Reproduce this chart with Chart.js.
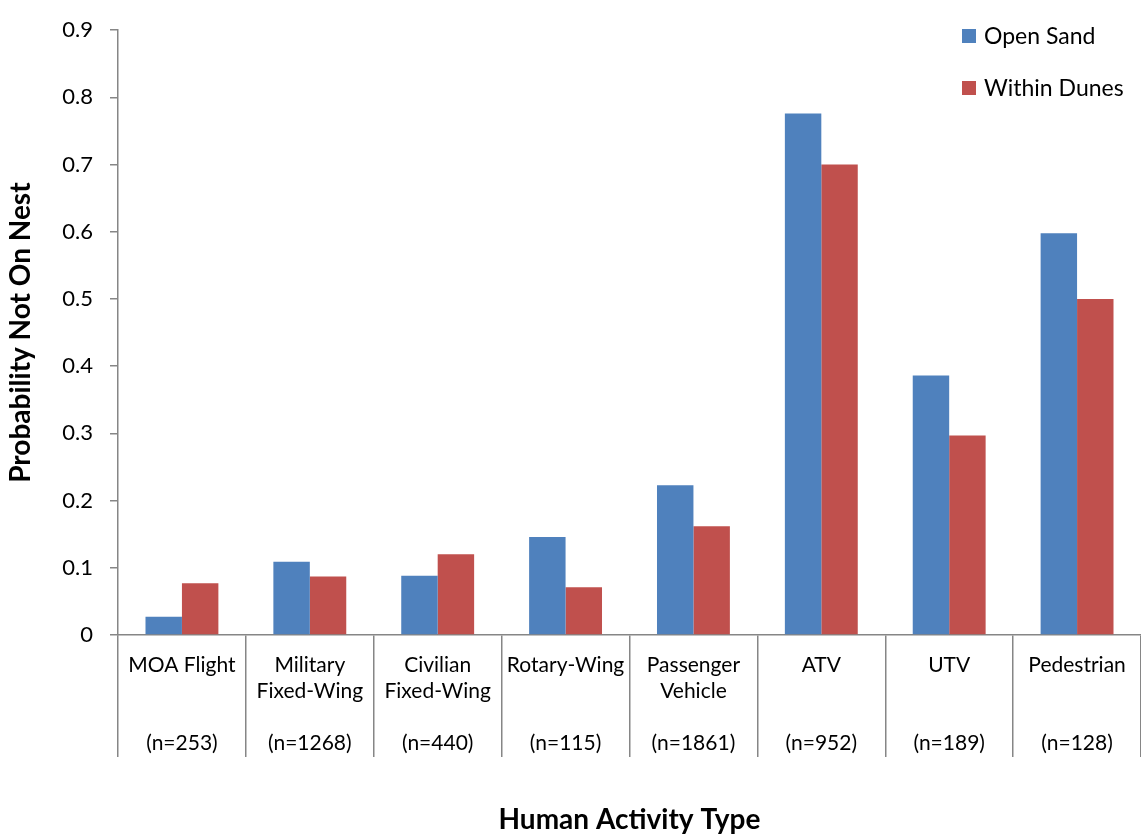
<!DOCTYPE html>
<html>
<head>
<meta charset="utf-8">
<title>Probability Not On Nest</title>
<script src="https://cdn.jsdelivr.net/npm/chart.js@4.4.1/dist/chart.umd.min.js"></script>
<style>
  body { margin: 0; background: #fff; }
  #wrap { position: relative; width: 1141px; height: 837px; }
</style>
</head>
<body>
<div id="wrap"><canvas id="chart"></canvas></div>
<script>
// Activity types (two label lines each) and number of observations
const activityNames = [
  ['MOA Flight', ''],
  ['Military', 'Fixed-Wing'],
  ['Civilian', 'Fixed-Wing'],
  ['Rotary-Wing', ''],
  ['Passenger', 'Vehicle'],
  ['ATV', ''],
  ['UTV', ''],
  ['Pedestrian', ''],
];
const sampleSizes = [253, 1268, 440, 115, 1861, 952, 189, 128];

const openSand = [0.027, 0.109, 0.088, 0.146, 0.223, 0.776, 0.386, 0.598];
const withinDunes = [0.077, 0.087, 0.120, 0.071, 0.162, 0.700, 0.297, 0.500];

const yTicks = [0, 0.1, 0.2, 0.3, 0.4, 0.5, 0.6, 0.7, 0.8, 0.9];

const FONT = "Lato, 'Open Sans', sans-serif";
const AXIS = '#868686';
const COL = { blue: '#4f81bd', red: '#c0504d' };

// name lines, a blank line, then the sample size
const labels = activityNames.map((n, i) => [n[0], n[1], '', `(n=${sampleSizes[i]})`]);

// legend sits inside the plot, top right
const insideLegend = {
  id: 'insideLegend',
  afterDraw(chart) {
    const ctx = chart.ctx;
    const x = chart.chartArea.right - 179;
    ctx.save();
    chart.data.datasets.forEach((ds, i) => {
      const y = 36 + i * 52;
      ctx.fillStyle = ds.backgroundColor;
      ctx.fillRect(x, y - 7, 14, 14);
      ctx.fillStyle = '#000';
      ctx.font = `23px ${FONT}`;
      ctx.textBaseline = 'middle';
      ctx.textAlign = 'left';
      ctx.fillText(ds.label, x + 22, y + 1);
    });
    ctx.restore();
  },
};

new Chart(document.getElementById('chart'), {
  type: 'bar',
  data: {
    labels,
    datasets: [
      { label: 'Open Sand', data: openSand, backgroundColor: COL.blue },
      { label: 'Within Dunes', data: withinDunes, backgroundColor: COL.red },
    ],
  },
  options: {
    responsive: true,
    maintainAspectRatio: false,
    animation: false,
    layout: { padding: { top: 17, right: 0, bottom: 0, left: 0 } },
    datasets: { bar: { barPercentage: 1, categoryPercentage: 0.57 } },
    plugins: {
      legend: { display: false },
      tooltip: { enabled: false },
    },
    scales: {
      x: {
        grid: { offset: true, drawOnChartArea: false, drawTicks: true, tickLength: 122, color: AXIS, lineWidth: 1.5 },
        border: { color: AXIS, width: 1.5 },
        ticks: {
          color: '#000', font: { family: FONT, size: 21, lineHeight: 1.24 },
          padding: -105, maxRotation: 0, autoSkip: false,
        },
        title: {
          display: true, text: 'Human Activity Type', color: '#000',
          font: { family: FONT, size: 28, weight: 'bold' }, padding: { top: 0, bottom: 0 },
        },
        afterFit: (s) => { s.height = 202; },
      },
      y: {
        min: 0, max: 0.9,
        afterBuildTicks: (s) => { s.ticks = yTicks.map((v) => ({ value: v })); },
        grid: { drawOnChartArea: false, drawTicks: true, tickLength: 8, color: AXIS, lineWidth: 1.5 },
        border: { color: AXIS, width: 1.5 },
        ticks: { color: '#000', font: { family: FONT, size: 22 }, padding: 17, callback: (v) => String(v) },
        title: {
          display: true, text: 'Probability Not On Nest', color: '#000',
          font: { family: FONT, size: 28, weight: 'bold' }, padding: { top: 4, bottom: 0 },
        },
        afterFit: (s) => { s.width = 118; },
      },
    },
  },
  plugins: [insideLegend],
});
</script>
</body>
</html>
